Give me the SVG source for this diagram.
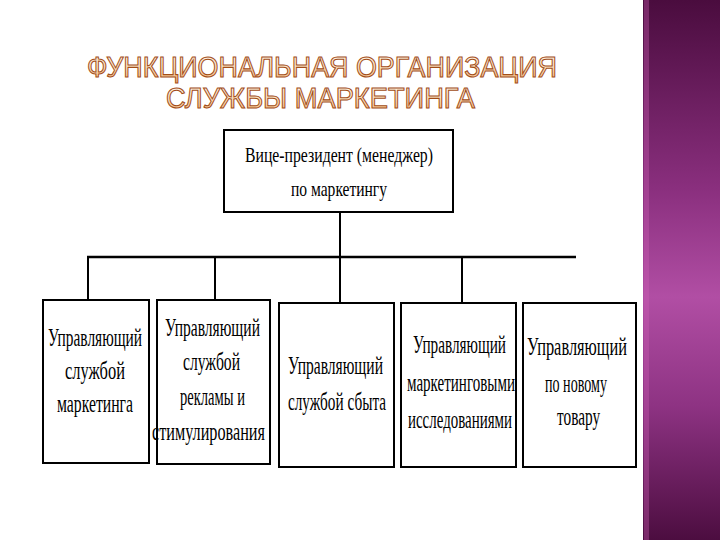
<svg xmlns="http://www.w3.org/2000/svg" width="720" height="540" viewBox="0 0 720 540">
<defs>
<linearGradient id="band" x1="0" y1="0" x2="0" y2="1">
<stop offset="0" stop-color="#4a0c3e"/>
<stop offset="0.35" stop-color="#8a2f7e"/>
<stop offset="0.55" stop-color="#b14ea4"/>
<stop offset="0.75" stop-color="#8e3383"/>
<stop offset="1" stop-color="#4c0d40"/>
</linearGradient>
<linearGradient id="tg" x1="0" y1="0" x2="0" y2="1">
<stop offset="0" stop-color="#fffaf2"/>
<stop offset="0.55" stop-color="#fde2c0"/>
<stop offset="1" stop-color="#f4b070"/>
</linearGradient>
</defs>
<style>
.box{fill:#fff;stroke:#000;stroke-width:2}
.t{font-family:"Liberation Serif","Times New Roman",serif;font-size:24.5px;fill:#000}
.tt{font-family:"Liberation Serif","Times New Roman",serif;font-size:22px;fill:#000}
.title{font-family:"Liberation Sans",Arial,sans-serif;font-size:30px;fill:url(#tg);stroke:#a24e1a;stroke-width:1.1}
.conn line{stroke:#000;stroke-width:2}
</style>
<rect x="0" y="0" width="720" height="540" fill="#fff"/>
<rect x="643" y="0" width="77" height="540" fill="url(#band)"/>
<rect x="644" y="0" width="5" height="540" fill="#d060b8" opacity="0.35"/>

<g id="title">
<text class="title" x="87" y="77" textLength="470" lengthAdjust="spacingAndGlyphs">ФУНКЦИОНАЛЬНАЯ ОРГАНИЗАЦИЯ</text>
<text class="title" x="166" y="108" textLength="309" lengthAdjust="spacingAndGlyphs">СЛУЖБЫ МАРКЕТИНГА</text>
</g>

<g id="connectors" class="conn">
<line x1="340" y1="212" x2="340" y2="257"/>
<line x1="87" y1="257" x2="576" y2="257" style="stroke-width:2.5"/>
<line x1="88" y1="257" x2="88" y2="300"/>
<line x1="215" y1="257" x2="215" y2="300"/>
<line x1="340" y1="257" x2="340" y2="303"/>
<line x1="462" y1="257" x2="462" y2="303"/>
</g>

<g id="vp">
<rect class="box" x="224" y="130" width="229" height="82"/>
<text class="tt" transform="translate(245 162) scale(0.66 1)" textLength="284.8" lengthAdjust="spacingAndGlyphs">Вице-президент (менеджер)</text>
<text class="tt" transform="translate(291 196) scale(0.66 1)" textLength="145.5" lengthAdjust="spacingAndGlyphs">по маркетингу</text>
</g>

<g id="n1">
<rect class="box" x="43" y="300" width="106" height="163"/>
<text class="t" transform="translate(48 346) scale(0.66 1)" textLength="142.4" lengthAdjust="spacingAndGlyphs">Управляющий</text>
<text class="t" transform="translate(65 379) scale(0.66 1)" textLength="90.9" lengthAdjust="spacingAndGlyphs">службой</text>
<text class="t" transform="translate(57 412) scale(0.66 1)" textLength="115.2" lengthAdjust="spacingAndGlyphs">маркетинга</text>
</g>

<g id="n2">
<rect class="box" x="157" y="300" width="113" height="164"/>
<text class="t" transform="translate(165 336) scale(0.66 1)" textLength="143.9" lengthAdjust="spacingAndGlyphs">Управляющий</text>
<text class="t" transform="translate(183 370) scale(0.66 1)" textLength="86.4" lengthAdjust="spacingAndGlyphs">службой</text>
<text class="t" transform="translate(180 405) scale(0.66 1)" textLength="98.5" lengthAdjust="spacingAndGlyphs">рекламы и</text>
<text class="t" transform="translate(152 440) scale(0.66 1)" textLength="171.2" lengthAdjust="spacingAndGlyphs">стимулирования</text>
</g>

<g id="n3">
<rect class="box" x="279" y="303" width="115" height="164"/>
<text class="t" transform="translate(288 374) scale(0.66 1)" textLength="143.9" lengthAdjust="spacingAndGlyphs">Управляющий</text>
<text class="t" transform="translate(288 410) scale(0.66 1)" textLength="148.5" lengthAdjust="spacingAndGlyphs">службой сбыта</text>
</g>

<g id="n4">
<rect class="box" x="401" y="303" width="115" height="164"/>
<text class="t" transform="translate(413 353) scale(0.66 1)" textLength="140.9" lengthAdjust="spacingAndGlyphs">Управляющий</text>
<text class="t" transform="translate(407 391) scale(0.66 1)" textLength="163.6" lengthAdjust="spacingAndGlyphs">маркетинговыми</text>
<text class="t" transform="translate(408 428) scale(0.66 1)" textLength="157.6" lengthAdjust="spacingAndGlyphs">исследованиями</text>
</g>

<g id="n5">
<rect class="box" x="523" y="303" width="113" height="164"/>
<text class="t" transform="translate(527 355) scale(0.66 1)" textLength="151.5" lengthAdjust="spacingAndGlyphs">Управляющий</text>
<text class="t" transform="translate(545 392) scale(0.66 1)" textLength="93.9" lengthAdjust="spacingAndGlyphs">по новому</text>
<text class="t" transform="translate(557 425) scale(0.66 1)" textLength="65.2" lengthAdjust="spacingAndGlyphs">товару</text>
</g>
</svg>
